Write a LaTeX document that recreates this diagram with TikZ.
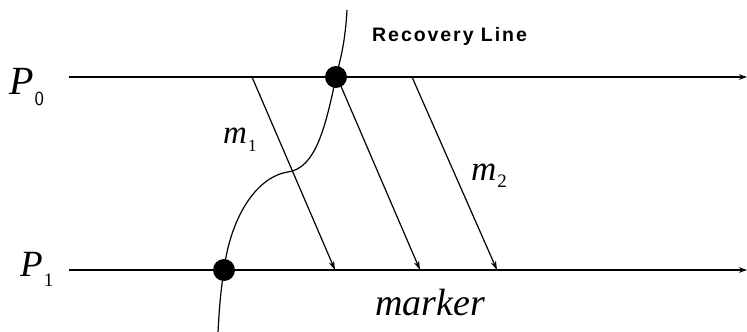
\documentclass[tikz,border=0pt]{standalone}
\usepackage{fontspec}
\setmainfont{Liberation Serif}
\newfontfamily\rlfont[LetterSpace=10]{Liberation Sans Bold}
\usetikzlibrary{arrows.meta}
\begin{document}
\begin{tikzpicture}[x=1pt,y=-1pt,
  procline/.style={line width=1.4pt,-{Stealth[length=8pt,width=5.5pt]}},
  msg/.style={line width=1.2pt,-{Stealth[length=9pt,width=5.5pt]}},
  recline/.style={line width=1.2pt},
  ckpt/.style={circle,fill=black,inner sep=0pt,minimum size=22pt},
  lbl/.style={inner sep=0pt,anchor=base west}]
\useasboundingbox (0,0) rectangle (747,332);
% process lines
\coordinate (p0s) at (69,77);
\coordinate (p0e) at (747,77);
\coordinate (p1s) at (69,270);
\coordinate (p1e) at (747,270);
\draw[procline] (p0s) -- (p0e);
\draw[procline] (p1s) -- (p1e);
% checkpoints
\node[ckpt] (c0) at (336,77) {};
\node[ckpt] (c1) at (224,270) {};
% recovery line
\coordinate (rtop) at (347,10);
\coordinate (rbot) at (218,332);
\draw[recline] (rtop) .. controls (345,45) and (340,60) .. (c0.center)
  .. controls (325,130) and (315,168) .. (288,172)
  .. controls (255,177) and (230,220) .. (c1.center)
  .. controls (220,295) and (219,315) .. (rbot);
% messages
\coordinate (m1s) at (252,77);
\coordinate (m1e) at (335,270);
\coordinate (mks) at (337,77);
\coordinate (mke) at (420,270);
\coordinate (m2s) at (412,77);
\coordinate (m2e) at (497,270);
\draw[msg] (m1s) -- (m1e);
\draw[msg] (mks) -- (mke);
\draw[msg] (m2s) -- (m2e);
% labels
\node[lbl] (P0) at (9,94) {\fontsize{40}{40}\selectfont\itshape P\/\kern1pt\raisebox{-11pt}{\fontsize{20}{20}\selectfont\sffamily\upshape 0}};
\node[lbl] (P1) at (20,276) {\fontsize{37}{37}\selectfont\itshape P\/\kern1pt\raisebox{-10pt}{\fontsize{19}{19}\selectfont\upshape 1}};
\node[lbl] (lm1) at (223,143) {\fontsize{33}{33}\selectfont\itshape m\kern1pt\raisebox{-8pt}{\fontsize{17}{17}\selectfont\upshape 1}};
\node[lbl] (lm2) at (471,180) {\fontsize{35}{35}\selectfont\itshape m\kern1pt\raisebox{-7pt}{\fontsize{19}{19}\selectfont\upshape 2}};
\node[lbl] (mk) at (375,315) {\fontsize{38}{38}\selectfont\itshape marker};
\node[lbl] (rl) at (372,41) {\fontsize{19.5}{19.5}\selectfont\rlfont Recovery Line};
\end{tikzpicture}
\end{document}
